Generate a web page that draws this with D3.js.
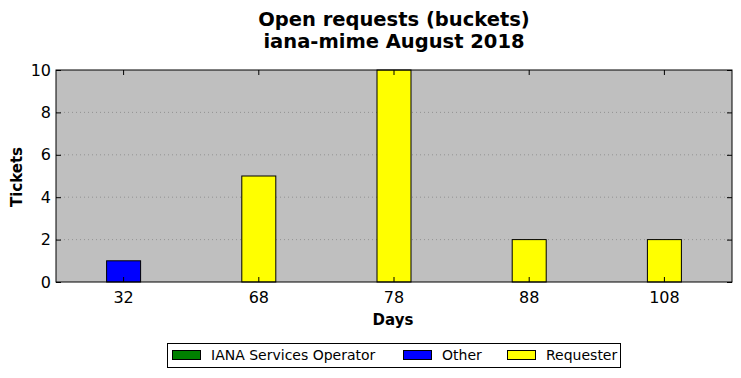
<!DOCTYPE html>
<html lang="en">
<head>
<meta charset="UTF-8">
<title>Open requests (buckets)</title>
<script src="https://cdn.jsdelivr.net/npm/d3@7"></script>
<style>
  body { margin: 0; background: #fff; }
  text { font-family: "DejaVu Sans", sans-serif; }
</style>
</head>
<body>
<svg id="chart" width="741" height="378"></svg>
<script>
const buckets = ["32", "68", "78", "88", "108"];
const seriesNames = ["IANA Services Operator", "Other", "Requester"];
const seriesColors = ["#008000", "#0000ff", "#ffff00"];
const operatorVals = [0, 0, 0, 0, 0];
const otherVals = [1, 0, 0, 0, 0];
const requesterVals = [0, 5, 10, 2, 2];
const yTicks = [0, 2, 4, 6, 8, 10];

const svg = d3.select("#chart");
const plotL = 56, plotR = 732, plotT = 70, plotB = 282;

const x = d3.scaleBand().domain(buckets).range([plotL, plotR]);
const y = d3.scaleLinear().domain([0, 10]).range([plotB, plotT]);
const barW = 34;

svg.append("rect")
    .attr("x", plotL).attr("y", plotT)
    .attr("width", plotR - plotL).attr("height", plotB - plotT)
    .attr("fill", "#bfbfbf");

// grid
svg.selectAll(".grid")
    .data(yTicks.filter(d => d > 0 && d < 10))
    .join("line")
    .attr("x1", plotL).attr("x2", plotR)
    .attr("y1", d => y(d)).attr("y2", d => y(d))
    .attr("stroke", "#888").attr("stroke-width", 0.8)
    .attr("stroke-dasharray", "1,3");

// stacked bars
const rows = buckets.map((b, i) => ({
    bucket: b,
    "IANA Services Operator": operatorVals[i],
    "Other": otherVals[i],
    "Requester": requesterVals[i]
}));
const stack = d3.stack().keys(seriesNames)(rows);
stack.forEach((layer, li) => {
    svg.append("g").selectAll("rect")
        .data(layer.filter(d => d[1] - d[0] > 0))
        .join("rect")
        .attr("x", d => x(d.data.bucket) + x.bandwidth() / 2 - barW / 2)
        .attr("width", barW)
        .attr("y", d => y(d[1]))
        .attr("height", d => y(d[0]) - y(d[1]))
        .attr("fill", seriesColors[li])
        .attr("stroke", "#000").attr("stroke-width", 1);
});

// frame
svg.append("rect")
    .attr("x", plotL).attr("y", plotT)
    .attr("width", plotR - plotL).attr("height", plotB - plotT)
    .attr("fill", "none").attr("stroke", "#000").attr("stroke-width", 1);

// axes with inward ticks
const xAxis = svg.append("g")
    .attr("transform", `translate(0,${plotB})`)
    .call(d3.axisBottom(x).tickSize(-5).tickPadding(10));
xAxis.select(".domain").remove();
const xTop = svg.append("g")
    .attr("transform", `translate(0,${plotT})`)
    .call(d3.axisTop(x).tickSize(-5).tickFormat(""));
xTop.select(".domain").remove();

const yAxis = svg.append("g")
    .attr("transform", `translate(${plotL},0)`)
    .call(d3.axisLeft(y).tickValues(yTicks).tickSize(-5).tickPadding(5));
yAxis.select(".domain").remove();
const yRight = svg.append("g")
    .attr("transform", `translate(${plotR},0)`)
    .call(d3.axisRight(y).tickValues(yTicks).tickSize(-5).tickFormat(""));
yRight.select(".domain").remove();

svg.selectAll(".tick text")
    .attr("font-family", "DejaVu Sans, sans-serif")
    .attr("font-size", 16).attr("fill", "#000");
svg.selectAll(".tick line").attr("stroke", "#000");

// titles
svg.append("text").attr("x", 394).attr("y", 26)
    .attr("text-anchor", "middle").attr("font-size", 19.5).attr("font-weight", "bold")
    .text("Open requests (buckets)");
svg.append("text").attr("x", 394).attr("y", 48)
    .attr("text-anchor", "middle").attr("font-size", 19.5).attr("font-weight", "bold")
    .text("iana-mime August 2018");

svg.append("text").attr("x", 393).attr("y", 325)
    .attr("text-anchor", "middle").attr("font-size", 15).attr("font-weight", "bold")
    .text("Days");
svg.append("text")
    .attr("transform", "translate(22,177) rotate(-90)")
    .attr("text-anchor", "middle").attr("font-size", 15).attr("font-weight", "bold")
    .text("Tickets");

// legend
const legend = svg.append("g");
legend.append("rect")
    .attr("x", 167.5).attr("y", 343.5).attr("width", 453).attr("height", 24)
    .attr("fill", "#fff").attr("stroke", "#000").attr("stroke-width", 1);
const legendX = [172, 403, 507];
seriesNames.forEach((name, i) => {
    legend.append("rect")
        .attr("x", legendX[i] + 0.5).attr("y", 350.5)
        .attr("width", 28).attr("height", 9)
        .attr("fill", seriesColors[i]).attr("stroke", "#000").attr("stroke-width", 1);
    legend.append("text")
        .attr("x", legendX[i] + 39).attr("y", 360)
        .attr("font-size", 14).text(name);
});
</script>
</body>
</html>
